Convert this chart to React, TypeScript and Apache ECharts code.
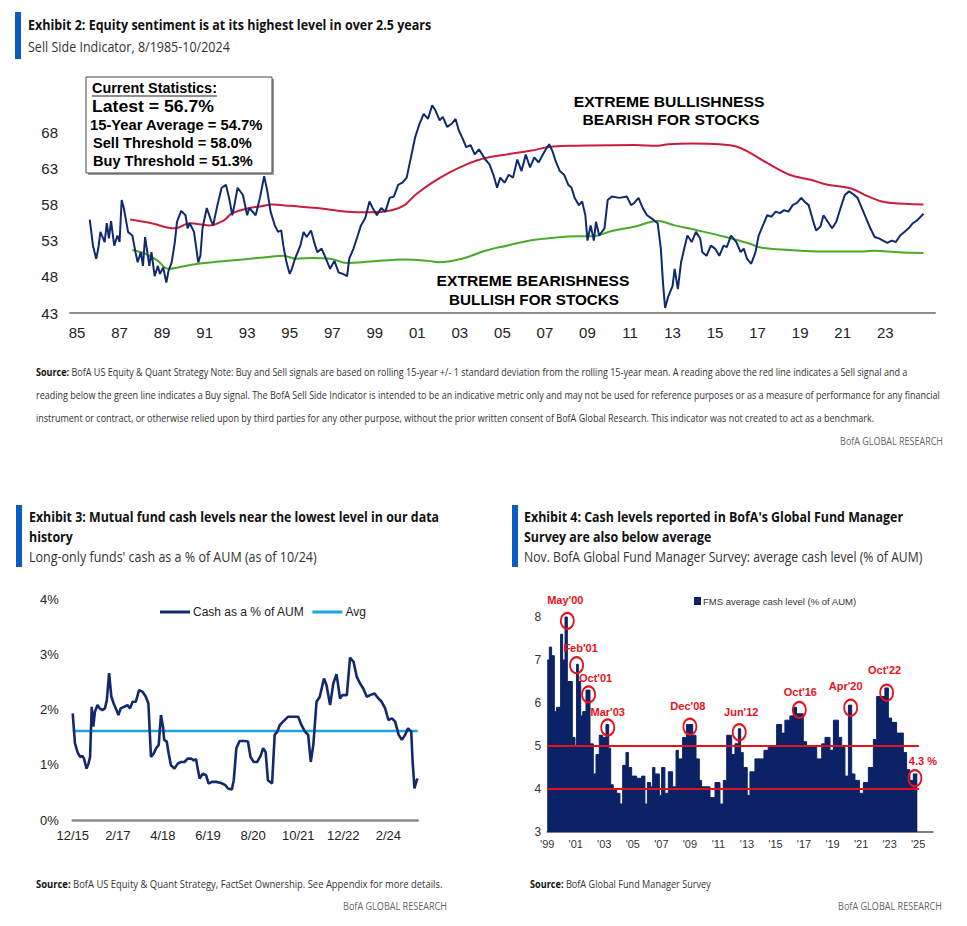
import React, { useEffect, useRef } from "react";
import * as echarts from "echarts";

// ---------------- Exhibit 2: BofA Sell Side Indicator ----------------
const ssiDates = [
  1985.6, 1985.75, 1985.9, 1986.0, 1986.1, 1986.3, 1986.4, 1986.5, 1986.6, 1986.75, 1986.9, 1987.0, 1987.1, 1987.2,
  1987.4, 1987.6, 1987.75, 1987.85, 1988.0, 1988.1, 1988.2, 1988.4, 1988.5, 1988.65, 1988.8, 1988.9, 1989.05, 1989.2,
  1989.3, 1989.45, 1989.6, 1989.7, 1989.9, 1990.1, 1990.2, 1990.3, 1990.5, 1990.7, 1990.8, 1990.9, 1991.1, 1991.3,
  1991.4, 1991.6, 1991.8, 1992.0, 1992.15, 1992.3, 1992.4, 1992.55, 1992.8, 1993.0, 1993.1, 1993.4, 1993.6, 1993.8,
  1993.95, 1994.1, 1994.3, 1994.45, 1994.6, 1994.7, 1994.85, 1995.0, 1995.1, 1995.25, 1995.5, 1995.65, 1995.8, 1996.0,
  1996.2, 1996.3, 1996.5, 1996.65, 1996.9, 1997.1, 1997.3, 1997.5, 1997.7, 1997.8, 1998.0, 1998.2, 1998.35, 1998.55,
  1998.75, 1998.9, 1999.1, 1999.3, 1999.5, 1999.7, 1999.9, 2000.1, 2000.3, 2000.5, 2000.7, 2000.9, 2001.1, 2001.3,
  2001.5, 2001.7, 2001.85, 2002.05, 2002.2, 2002.4, 2002.6, 2002.8, 2002.95, 2003.1, 2003.3, 2003.5, 2003.7, 2003.9,
  2004.2, 2004.4, 2004.6, 2004.75, 2004.9, 2005.1, 2005.3, 2005.5, 2005.7, 2005.9, 2006.1, 2006.3, 2006.5, 2006.7,
  2007.0, 2007.2, 2007.35, 2007.5, 2007.7, 2007.9, 2008.1, 2008.25, 2008.4, 2008.6, 2008.75, 2008.9, 2009.0, 2009.15,
  2009.3, 2009.4, 2009.55, 2009.8, 2009.95, 2010.15, 2010.5, 2010.85, 2011.05, 2011.2, 2011.4, 2011.6, 2011.8, 2012.0,
  2012.3, 2012.45, 2012.55, 2012.65, 2012.8, 2013.0, 2013.1, 2013.25, 2013.4, 2013.55, 2013.7, 2013.9, 2014.1, 2014.3,
  2014.4, 2014.6, 2014.8, 2015.0, 2015.2, 2015.4, 2015.55, 2015.75, 2016.0, 2016.2, 2016.35, 2016.5, 2016.7, 2016.9,
  2017.05, 2017.25, 2017.45, 2017.65, 2017.85, 2018.05, 2018.25, 2018.45, 2018.65, 2018.85, 2019.05, 2019.2, 2019.4,
  2019.6, 2019.75, 2019.95, 2020.1, 2020.3, 2020.5, 2020.7, 2020.9, 2021.1, 2021.3, 2021.5, 2021.7, 2021.9, 2022.1,
  2022.3, 2022.5, 2022.7, 2022.9, 2023.1, 2023.3, 2023.5, 2023.7, 2023.9, 2024.1, 2024.3, 2024.5, 2024.8,
];
const ssiValues = [
  55.9, 52.3, 50.5, 51.9, 54.2, 52.8, 55.4, 53.3, 55.7, 52.3, 53.7, 52.8, 58.6, 57.5,
  54.2, 53.7, 51.4, 50.0, 51.4, 49.5, 53.5, 49.5, 51.4, 48.1, 49.5, 48.4, 49.3, 47.2,
  48.8, 50.0, 52.8, 55.6, 57.1, 56.5, 54.7, 55.4, 54.2, 50.0, 50.9, 54.7, 57.5, 55.8,
  55.1, 57.9, 60.3, 60.7, 58.9, 56.5, 57.9, 60.3, 59.3, 56.5, 57.5, 56.5, 58.9, 61.9,
  59.8, 57.0, 55.1, 54.2, 54.4, 52.3, 50.0, 48.4, 49.1, 50.5, 52.3, 54.2, 53.5, 54.4,
  52.3, 51.4, 51.9, 50.9, 49.1, 50.2, 48.6, 48.4, 48.1, 50.5, 51.9, 53.7, 55.1, 56.1,
  58.4, 57.5, 56.5, 57.5, 57.0, 58.9, 59.1, 60.7, 61.0, 61.7, 64.5, 67.3, 69.1, 70.5,
  69.8, 71.7, 71.0, 69.6, 70.1, 68.7, 69.1, 69.8, 68.2, 67.3, 65.9, 66.2, 64.9, 65.6,
  64.2, 63.5, 61.9, 60.3, 61.7, 61.0, 62.1, 61.7, 64.2, 62.6, 64.9, 63.1, 64.5, 63.8,
  65.4, 66.3, 65.4, 64.0, 62.6, 62.1, 60.7, 60.3, 58.9, 57.9, 58.4, 56.5, 53.0, 55.1,
  53.0, 55.6, 53.7, 54.7, 58.6, 59.1, 58.9, 59.1, 57.9, 58.2, 58.9, 57.5, 56.5, 56.1,
  55.4, 51.9, 47.2, 43.7, 45.3, 46.7, 49.1, 46.3, 50.0, 51.9, 53.7, 52.8, 54.2, 53.3,
  51.4, 50.9, 52.3, 51.9, 50.9, 52.3, 52.1, 53.7, 52.8, 51.4, 51.9, 50.5, 49.8, 51.4,
  53.7, 55.1, 56.5, 56.3, 57.0, 56.8, 57.2, 57.0, 57.9, 58.2, 58.9, 58.4, 57.9,
  55.8, 54.4, 54.9, 56.5, 55.6, 54.7, 55.6, 57.5, 59.3, 59.8, 59.4, 58.9, 57.5, 56.1,
  54.7, 53.5, 53.3, 53.0, 52.7, 53.0, 52.8, 53.7, 54.2, 54.7, 55.4, 55.8, 56.7,
];
const sellDates = [
  1987.5, 1988.5, 1989.6, 1990.3, 1991.2, 1991.9, 1992.3, 1993.1, 1993.6, 1994.2, 1995.0, 1996.3, 1997.7, 1998.8,
  1999.8, 2000.4, 2000.9, 2001.7, 2002.5, 2003.3, 2004.2, 2005.2, 2006.3, 2007.4, 2008.5, 2011.2, 2012.3, 2012.8,
  2013.9, 2015.2, 2016.0, 2016.6, 2017.4, 2018.5, 2019.5, 2020.3, 2021.4, 2022.2, 2023.0, 2023.9, 2024.8,
];
const sellValues = [
  55.9, 55.4, 54.7, 55.4, 55.1, 55.8, 56.8, 57.5, 57.7, 58.0, 57.8, 57.5, 57.0, 56.9,
  57.2, 57.9, 59.3, 61.0, 62.4, 63.5, 64.4, 64.9, 65.4, 66.0, 66.1, 66.2, 66.1, 66.3,
  66.4, 66.3, 66.0, 65.2, 63.8, 62.1, 61.4, 60.7, 60.2, 59.1, 58.3, 58.1, 58.0,
];
const buyDates = [
  1987.6, 1988.2, 1988.8, 1989.3, 1989.9, 1990.7, 1991.7, 1992.8, 1993.9, 1994.7, 1995.3, 1996.1, 1996.9, 1997.7,
  1998.8, 2000.4, 2001.5, 2002.0, 2003.1, 2004.2, 2005.2, 2006.3, 2007.4, 2008.5, 2009.3, 2010.1, 2011.2, 2012.3,
  2013.1, 2014.2, 2015.5, 2016.6, 2017.2, 2018.5, 2020.1, 2022.0, 2022.5, 2023.6, 2024.8,
];
const buyValues = [
  51.7, 51.2, 50.2, 49.1, 49.4, 49.8, 50.1, 50.4, 50.7, 50.9, 50.5, 50.6, 50.5, 49.9,
  50.1, 50.4, 50.2, 50.0, 50.5, 51.6, 52.3, 53.0, 53.4, 53.6, 53.6, 54.3, 54.9, 55.7,
  55.1, 54.4, 53.5, 52.6, 52.0, 51.7, 51.5, 51.5, 51.6, 51.4, 51.3,
];
const ssiTickYears = [1985, 1987, 1989, 1991, 1993, 1995, 1997, 1999, 2001, 2003, 2005, 2007, 2009, 2011, 2013, 2015, 2017, 2019, 2021, 2023];
const ssiYTicks = [43, 48, 53, 58, 63, 68];
const statsLines = ["Current Statistics:", "Latest = 56.7%", "15-Year Average = 54.7%", "Sell Threshold = 58.0%", "Buy Threshold = 51.3%"];

// ---------------- Exhibit 3: Mutual fund cash ----------------
const cashMonths = [
  0, 0.7, 1.5, 2.3, 3.0, 3.5, 4.3, 4.9, 5.4, 5.9, 6.4, 6.9, 7.7, 8.4, 9.2, 10.0, 10.6, 11.3, 12.0, 12.9, 13.6, 14.2, 14.9,
  16.0, 17.0, 17.8, 18.6, 19.6, 20.6, 21.7, 22.7, 23.5, 24.3, 25.1, 25.9, 26.7, 27.4, 28.1, 28.4, 29.2, 29.8, 30.5, 31.6,
  32.6, 33.6, 34.7, 35.7, 36.8, 37.6, 38.3, 38.8, 39.4, 40.4, 41.4, 42.2, 43.2, 44.5, 46.1, 47.4, 48.2, 49.4, 50.0, 50.8,
  51.8, 53.4, 54.4, 55.2, 56.2, 57.3, 58.4, 59.1, 59.9, 60.6, 61.9, 62.7, 63.5, 64.3, 65.3, 66.9, 68.4, 70.0, 71.0, 72.1,
  73.1, 73.9, 74.7, 75.7, 76.7, 78.0, 78.8, 79.9, 80.9, 81.9, 83.0, 83.7, 85.1, 86.1, 87.2, 88.2, 89.2, 90.2, 91.3, 92.3,
  93.7, 94.9, 95.9, 97.0, 98.0, 99.1, 100.1, 101.2, 102.2, 103.2, 104.1, 105.1, 105.5, 106.1, 106.8, 107.1,
];
const cashValues = [
  1.93, 1.39, 1.23, 1.14, 1.16, 1.11, 0.93, 1.02, 1.14, 2.05, 1.69, 1.96, 2.08, 2.02, 1.99, 2.02, 2.17, 2.66, 2.23, 2.08, 1.99, 1.9, 2.02,
  2.05, 2.08, 2.02, 2.14, 2.14, 2.35, 2.32, 2.23, 2.11, 1.14, 1.2, 1.3, 1.36, 1.9, 1.66, 1.45, 1.42, 1.2, 0.99, 0.93,
  1.02, 1.05, 1.05, 1.11, 1.11, 1.08, 1.1, 0.93, 0.75, 0.84, 0.81, 0.66, 0.69, 0.69, 0.67, 0.63, 0.57, 0.55, 0.72, 1.3,
  1.43, 1.43, 1.42, 1.14, 1.05, 1.05, 1.17, 1.3, 1.23, 0.72, 0.66, 1.54, 1.6, 1.72, 1.78, 1.87, 1.87, 1.87, 1.72, 1.6,
  1.54, 1.05, 1.36, 2.14, 2.23, 2.56, 2.44, 2.08, 2.47, 2.64, 2.2, 2.26, 2.26, 2.94, 2.86, 2.59, 2.47, 2.38, 2.23, 2.26,
  2.29, 2.2, 2.14, 2.02, 1.81, 1.84, 1.78, 1.54, 1.45, 1.54, 1.66, 1.6, 1.08, 0.57, 0.72, 0.75,
];
const cashAvg = 1.61;
const cashTickMonths = [0, 14, 28, 42, 56, 70, 84, 98];
const cashTickLabels = ["12/15", "2/17", "4/18", "6/19", "8/20", "10/21", "12/22", "2/24"];

// ---------------- Exhibit 4: FMS cash level ----------------
const fmsDates = [
  1999.0, 1999.15, 1999.31, 1999.5, 1999.66, 1999.94, 2000.08, 2000.25, 2000.41, 2000.76, 2000.95, 2001.06, 2001.18,
  2001.35, 2001.49, 2001.72, 2002.0, 2002.23, 2002.42, 2002.65, 2002.89, 2003.12, 2003.31, 2003.45, 2003.63, 2003.87,
  2004.1, 2004.29, 2004.52, 2004.69, 2004.92, 2005.27, 2005.62, 2005.85, 2006.02, 2006.25, 2006.39, 2006.55, 2006.86,
  2007.02, 2007.25, 2007.49, 2007.79, 2008.03, 2008.19, 2008.49, 2008.77, 2009.2, 2009.43, 2009.66, 2009.82, 2010.41,
  2010.76, 2011.11, 2011.34, 2011.58, 2011.93, 2012.16, 2012.4, 2012.56, 2012.74, 2013.02, 2013.21, 2013.56, 2014.19,
  2014.49, 2015.08, 2015.43, 2015.66, 2016.01, 2016.25, 2016.48, 2016.95, 2017.18, 2017.89, 2018.24, 2018.47, 2018.82,
  2019.06, 2019.41, 2019.64, 2019.87, 2020.11, 2020.34, 2020.57, 2020.88, 2021.16, 2021.51, 2021.86, 2022.09, 2022.67,
  2022.91, 2023.14, 2023.49, 2023.96, 2024.19, 2024.42, 2024.66, 2024.94,
];
const fmsCash = [
  7.0, 7.3, 7.1, 5.8, 5.9, 7.6, 7.0, 8.0, 6.5, 5.2, 5.0, 6.9, 6.5,
  5.7, 5.8, 6.3, 5.05, 4.35, 4.8, 5.25, 5.2, 5.5, 4.95, 4.1, 4.0, 3.9,
  3.65, 4.55, 4.85, 4.5, 4.3, 4.25, 4.3, 3.65, 4.15, 4.05, 4.5, 4.35, 3.85,
  4.5, 3.9, 4.4, 4.05, 4.9, 4.7, 5.2, 5.5, 5.25, 4.7, 4.2, 4.05, 3.8,
  4.15, 3.65, 4.2, 5.25, 4.8, 5.05, 5.4, 4.85, 4.5, 3.85, 4.4, 4.7, 4.9,
  5.0, 5.5, 5.3, 5.6, 5.7, 5.9, 5.75, 5.1, 5.0, 4.7, 5.05, 5.2, 4.9,
  5.6, 5.2, 5.0, 4.3, 5.95, 4.35, 4.2, 3.9, 4.15, 4.5, 5.15, 6.15, 6.35,
  5.65, 5.55, 5.3, 4.85, 4.45, 4.2, 4.35, 4.35,
];
const fmsBands = [5, 4];
const fmsBandStart = 1999.0;
const fmsBandEnd = 2025.05;
const fmsTickYears = [1999, 2001, 2003, 2005, 2007, 2009, 2011, 2013, 2015, 2017, 2019, 2021, 2023, 2025];
const peakLabels = ["May'00", "Feb'01", "Oct'01", "Mar'03", "Dec'08", "Jun'12", "Oct'16", "Apr'20", "Oct'22", "4.3 %"];
const peakDates = [2000.41, 2001.06, 2001.9, 2003.24, 2009.0, 2012.46, 2016.67, 2020.27, 2022.79, 2024.77];
const peakValues = [7.91, 6.88, 6.2, 5.43, 5.45, 5.32, 5.84, 5.89, 6.24, 4.25];
const peakLabelOffsets = [[-2, -1], [4, 2], [7, 3], [0, 4], [-2, -1], [2, -1], [1, 2], [-5, -2], [-2, -3], [8, 2]];

// ---------------- Texts ----------------
const ex2Title = "Exhibit 2: Equity sentiment is at its highest level in over 2.5 years";
const ex2Sub = "Sell Side Indicator, 8/1985-10/2024";
const ex2Note = [
  " BofA US Equity & Quant Strategy Note: Buy and Sell signals are based on rolling 15-year +/- 1 standard deviation from the rolling 15-year mean. A reading above the red line indicates a Sell signal and a",
  "reading below the green line indicates a Buy signal. The BofA Sell Side Indicator is intended to be an indicative metric only and may not be used for reference purposes or as a measure of performance for any financial",
  "instrument or contract, or otherwise relied upon by third parties for any other purpose, without the prior written consent of BofA Global Research. This indicator was not created to act as a benchmark.",
];
const ex3Title = ["Exhibit 3: Mutual fund cash levels near the lowest level in our data", "history"];
const ex3Sub = "Long-only funds' cash as a % of AUM (as of 10/24)";
const ex3Note = " BofA US Equity & Quant Strategy, FactSet Ownership. See Appendix for more details.";
const ex4Title = ["Exhibit 4: Cash levels reported in BofA's Global Fund Manager", "Survey are also below average"];
const ex4Sub = "Nov. BofA Global Fund Manager Survey: average cash level (% of AUM)";
const ex4Note = " BofA Global Fund Manager Survey";
const footer = "BofA GLOBAL RESEARCH";

const F_BOFA = "'Open Sans', 'Noto Sans', sans-serif";
const F_ARIAL = "'Liberation Sans', Arial, sans-serif";
const F_NARROW = "'Liberation Sans Narrow', 'Liberation Sans', Arial, sans-serif";
const BLUE_BAR = "#0a5bc4";

let measureCtx: CanvasRenderingContext2D | null = null;
function measure(text: string, size: number, weight: string, family: string) {
  if (!measureCtx) measureCtx = document.createElement("canvas").getContext("2d");
  measureCtx!.font = `${weight} ${size}px ${family}`;
  return measureCtx!.measureText(text).width;
}

function txt(text: string, x: number, y: number, size: number, weight: string, family: string, fill: string, scaleX = 1, align = "left") {
  return {
    type: "text",
    x,
    y,
    scaleX,
    z: 10,
    style: {
      text,
      fontSize: size,
      fontWeight: weight,
      fontFamily: family,
      fill,
      textAlign: align,
      textVerticalAlign: "middle",
      align,
      verticalAlign: "middle",
    },
  };
}

function fit(text: string, x: number, y: number, size: number, weight: string, family: string, fill: string, width: number, align = "left") {
  const s = width / measure(text, size, weight, family);
  return txt(text, x, y, size, weight, family, fill, s, align);
}

function rect(x: number, y: number, w: number, h: number, fill: string, extra: any = {}) {
  return { type: "rect", z: 9, shape: { x, y, width: w, height: h }, style: { fill, ...extra } };
}

function sourceLine(rest: string, x: number, y: number, size: number, width: number, out: any[]) {
  const wb = measure("Source:", size, "bold", F_BOFA);
  const wr = measure(rest, size, "normal", F_BOFA);
  const s = width / (wb + wr);
  out.push(txt("Source:", x, y, size, "bold", F_BOFA, "#111", s));
  out.push(txt(rest, x + wb * s, y, size, "normal", F_BOFA, "#333", s));
}

function buildGraphics() {
  const g: any[] = [];
  // Exhibit 2 header
  g.push(rect(15, 12, 6, 47, BLUE_BAR));
  g.push(fit(ex2Title, 28, 24, 15, "bold", F_BOFA, "#111", 404));
  g.push(fit(ex2Sub, 28, 47, 14, "normal", F_BOFA, "#333", 202));

  // stats box
  g.push(rect(88, 79, 186, 96, "#9a9a9a"));
  g.push(rect(86, 77, 186, 96, "#ffffff", { stroke: "#444", lineWidth: 1 }));
  const statPos = [
    [92, 88, 14, 125],
    [92, 106, 17, 122],
    [90, 125, 14, 173],
    [93, 143, 14, 159],
    [93, 161, 14, 160],
  ];
  statsLines.forEach((t, i) => {
    const [x, y, sz, w] = statPos[i];
    g.push(fit(t, x, y, sz, "bold", F_ARIAL, "#000", w));
  });
  g.push({ type: "line", z: 10, shape: { x1: 92, y1: 96, x2: 217, y2: 96 }, style: { stroke: "#222", lineWidth: 1.2 } });

  // zone annotations
  g.push(fit("EXTREME BULLISHNESS", 669, 102, 15, "bold", F_ARIAL, "#000", 191, "center"));
  g.push(fit("BEARISH FOR STOCKS", 671, 120, 15, "bold", F_ARIAL, "#000", 177, "center"));
  g.push(fit("EXTREME BEARISHNESS", 533, 281, 15, "bold", F_ARIAL, "#000", 193, "center"));
  g.push(fit("BULLISH FOR STOCKS", 534, 300, 15, "bold", F_ARIAL, "#000", 170, "center"));

  // Exhibit 2 note
  sourceLine(ex2Note[0], 36, 372, 10.5, 872, g);
  g.push(fit(ex2Note[1], 36, 395, 10.5, "normal", F_BOFA, "#333", 906));
  g.push(fit(ex2Note[2], 36, 418, 10.5, "normal", F_BOFA, "#333", 840));
  g.push(fit(footer, 943, 441, 10.5, "normal", F_BOFA, "#666", 103, "right"));

  // Exhibit 3 header
  g.push(rect(16, 505, 6, 62, BLUE_BAR));
  const s3 = 410 / measure(ex3Title[0], 15, "bold", F_BOFA);
  g.push(txt(ex3Title[0], 29, 516, 15, "bold", F_BOFA, "#111", s3));
  g.push(txt(ex3Title[1], 29, 536, 15, "bold", F_BOFA, "#111", s3));
  g.push(fit(ex3Sub, 29, 557, 14, "normal", F_BOFA, "#333", 288));

  // Exhibit 4 header
  g.push(rect(512, 505, 6, 62, BLUE_BAR));
  const s4 = 379 / measure(ex4Title[0], 15, "bold", F_BOFA);
  g.push(txt(ex4Title[0], 524, 516, 15, "bold", F_BOFA, "#111", s4));
  g.push(txt(ex4Title[1], 524, 536, 15, "bold", F_BOFA, "#111", s4));
  g.push(fit(ex4Sub, 524, 557, 14, "normal", F_BOFA, "#333", 399));

  // bottom notes
  sourceLine(ex3Note, 36, 884, 10, 407, g);
  g.push(fit(footer, 447, 906, 10, "normal", F_BOFA, "#666", 104, "right"));
  sourceLine(ex4Note, 530, 884, 10, 181, g);
  g.push(fit(footer, 942, 906, 10, "normal", F_BOFA, "#666", 104, "right"));
  return g;
}

const zip = (a: number[], b: number[]) => a.map((v, i) => [v, b[i]]);
const pad2 = (v: number) => String(Math.round(v) % 100).padStart(2, "0");

function buildOption() {
  const fmsLegendName = "FMS average cash level (% of AUM)";
  return {
    animation: false,
    backgroundColor: "#ffffff",
    grid: [
      { left: 70, top: 95.8, width: 865, height: 217.2 },
      { left: 72.7, top: 599, width: 345, height: 221 },
      { left: 547.2, top: 617, width: 385.8, height: 215 },
    ],
    xAxis: [
      {
        type: "value",
        gridIndex: 0,
        min: 1984.67,
        max: 2025.34,
        splitLine: { show: false },
        axisTick: { show: false },
        axisLine: { show: true, lineStyle: { color: "#8c8c8c", width: 2 } },
        axisLabel: {
          customValues: ssiTickYears,
          formatter: (v: number) => pad2(v),
          fontFamily: F_ARIAL,
          fontSize: 15,
          color: "#222",
          margin: 12,
        },
      },
      {
        type: "value",
        gridIndex: 1,
        min: 0,
        max: 107.1,
        splitLine: { show: false },
        axisTick: { show: false },
        axisLine: { show: true, lineStyle: { color: "#8c8c8c", width: 2.5 } },
        axisLabel: {
          customValues: cashTickMonths,
          formatter: (v: number) => cashTickLabels[cashTickMonths.indexOf(Math.round(v))] ?? "",
          fontFamily: F_ARIAL,
          fontSize: 13,
          color: "#222",
          margin: 9,
        },
      },
      {
        type: "value",
        gridIndex: 2,
        min: 1999,
        max: 2026.04,
        splitLine: { show: false },
        axisTick: { show: false },
        axisLine: { show: true, lineStyle: { color: "#555", width: 1.5 } },
        axisLabel: {
          customValues: fmsTickYears,
          formatter: (v: number) => "'" + pad2(v),
          fontFamily: F_NARROW,
          fontSize: 11,
          color: "#333",
          margin: 6,
        },
      },
    ],
    yAxis: [
      {
        type: "value",
        gridIndex: 0,
        min: 43,
        max: 73,
        splitLine: { show: false },
        axisTick: { show: false },
        axisLine: { show: false },
        axisLabel: { customValues: ssiYTicks, fontFamily: F_ARIAL, fontSize: 15, color: "#222", margin: 12 },
      },
      {
        type: "value",
        gridIndex: 1,
        min: 0,
        max: 4,
        interval: 1,
        splitLine: { show: false },
        axisTick: { show: false },
        axisLine: { show: false },
        axisLabel: { formatter: "{value}%", fontFamily: F_ARIAL, fontSize: 13, color: "#222", margin: 14 },
      },
      {
        type: "value",
        gridIndex: 2,
        min: 3,
        max: 8,
        interval: 1,
        splitLine: { show: false },
        axisTick: { show: false },
        axisLine: { show: false },
        axisLabel: { fontFamily: F_NARROW, fontSize: 12, color: "#333", margin: 6 },
      },
    ],
    legend: [
      {
        data: ["Cash as a % of AUM", "Avg"],
        left: 160,
        top: 606,
        icon: "rect",
        itemWidth: 30,
        itemHeight: 3,
        itemGap: 8,
        padding: 0,
        textStyle: { fontFamily: F_ARIAL, fontSize: 12, color: "#222", padding: [0, 0, 0, -2] },
      },
      {
        data: [fmsLegendName],
        left: 694,
        top: 596,
        icon: "rect",
        itemWidth: 7,
        itemHeight: 8,
        padding: 0,
        textStyle: { fontFamily: F_NARROW, fontSize: 9.5, color: "#333", padding: [0, 0, 0, -3] },
      },
    ],
    series: [
      {
        name: "Sell Side Indicator",
        type: "line",
        xAxisIndex: 0,
        yAxisIndex: 0,
        data: zip(ssiDates, ssiValues),
        symbol: "none",
        lineStyle: { color: "#102a6e", width: 2 },
        z: 4,
      },
      {
        name: "Sell threshold",
        type: "line",
        xAxisIndex: 0,
        yAxisIndex: 0,
        data: zip(sellDates, sellValues),
        symbol: "none",
        smooth: 0.4,
        lineStyle: { color: "#c81e3c", width: 2 },
        z: 3,
      },
      {
        name: "Buy threshold",
        type: "line",
        xAxisIndex: 0,
        yAxisIndex: 0,
        data: zip(buyDates, buyValues),
        symbol: "none",
        smooth: 0.4,
        lineStyle: { color: "#4aa82a", width: 2 },
        z: 3,
      },
      {
        name: "Cash as a % of AUM",
        type: "line",
        xAxisIndex: 1,
        yAxisIndex: 1,
        data: zip(cashMonths, cashValues),
        symbol: "none",
        itemStyle: { color: "#13296b" },
        lineStyle: { color: "#13296b", width: 2.6 },
        z: 4,
      },
      {
        name: "Avg",
        type: "line",
        xAxisIndex: 1,
        yAxisIndex: 1,
        data: [
          [cashMonths[0], cashAvg],
          [cashMonths[cashMonths.length - 1], cashAvg],
        ],
        symbol: "none",
        itemStyle: { color: "#1ea3de" },
        lineStyle: { color: "#1ea3de", width: 2.6 },
        z: 3,
      },
      {
        name: fmsLegendName,
        type: "line",
        xAxisIndex: 2,
        yAxisIndex: 2,
        data: zip(fmsDates, fmsCash),
        step: "end",
        symbol: "none",
        clip: false,
        itemStyle: { color: "#0c2266" },
        lineStyle: { color: "#0c2266", width: 1 },
        areaStyle: { color: "#0c2266", opacity: 1, origin: "start" },
        z: 2,
        markLine: {
          silent: true,
          symbol: ["none", "none"],
          label: { show: false },
          lineStyle: { color: "#e8101a", width: 2, type: "solid" },
          data: fmsBands.map((b) => [{ coord: [fmsBandStart, b] }, { coord: [fmsBandEnd, b] }]),
        },
        markPoint: {
          symbol: "circle",
          symbolSize: [13, 16],
          itemStyle: { color: "rgba(0,0,0,0)", borderColor: "#e8101a", borderWidth: 2 },
          label: {
            show: true,
            position: "top",
            distance: 5,
            formatter: "{b}",
            color: "#e8101a",
            fontWeight: "bold",
            fontFamily: F_NARROW,
            fontSize: 11,
          },
          data: peakLabels.map((name, i) => ({
            name,
            coord: [peakDates[i], peakValues[i]],
            label: { offset: peakLabelOffsets[i] },
          })),
        },
      },
    ],
    graphic: { elements: buildGraphics() },
  };
}

export default function App() {
  const ref = useRef<HTMLDivElement>(null);
  useEffect(() => {
    const chart = echarts.init(ref.current!, null, { renderer: "svg", width: 967, height: 926 });
    chart.setOption(buildOption() as any);
    return () => chart.dispose();
  }, []);
  return (
    <div
      ref={ref}
      style={{ position: "absolute", left: 0, top: 0, width: 967, height: 926, background: "#ffffff" }}
    />
  );
}
